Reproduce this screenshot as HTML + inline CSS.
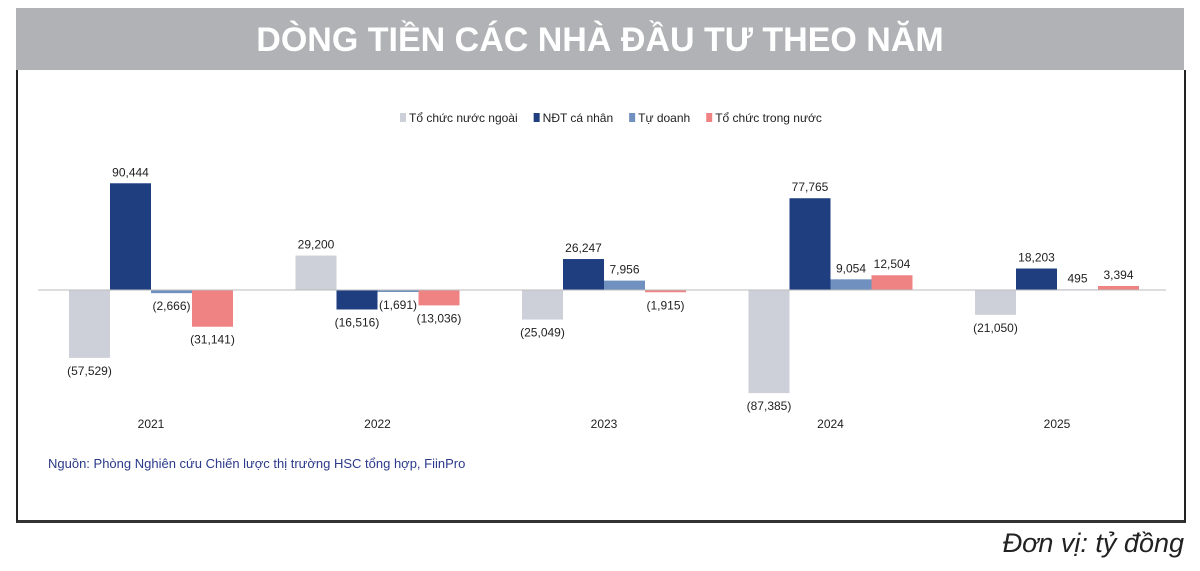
<!DOCTYPE html>
<html><head><meta charset="utf-8"><style>
body{margin:0;width:1200px;height:571px;background:#fff;font-family:"Liberation Sans",sans-serif;overflow:hidden;position:relative}
#hdr{position:absolute;left:16px;top:8px;width:1168px;height:62px;background:#b1b2b5;color:#fff;font-weight:bold;font-size:34px;text-align:center;line-height:64px;font-family:"Liberation Sans Narrow","Liberation Sans",sans-serif;letter-spacing:0px}
#box{position:absolute;left:16px;top:70px;width:1166px;height:450px;border-left:2px solid #222;border-right:2px solid #222;border-bottom:3px solid #333}
#unit{position:absolute;right:16px;top:528px;font-style:italic;font-size:27px;color:#222}
svg{position:absolute;left:0;top:0}
</style></head><body>
<div id="hdr">DÒNG TIỀN CÁC NHÀ ĐẦU TƯ THEO NĂM</div>
<div id="box"></div>
<div id="unit">Đơn vị: tỷ đồng</div>
<svg id="chart" width="1200" height="571"></svg>
<script>
const years=["2021","2022","2023","2024","2025"];
const seriesNames=["Tổ chức nước ngoài","NĐT cá nhân","Tự doanh","Tổ chức trong nước"];
const foreignInst=[-57529,29200,-25049,-87385,-21050];
const retail=[90444,-16516,26247,77765,18203];
const proprietary=[-2666,-1691,7956,9054,495];
const domesticInst=[-31141,-13036,-1915,12504,3394];
const colors=["#cdd0d9","#1f3e80","#7090c0","#ef8383"];
const series=[foreignInst,retail,proprietary,domesticInst];
const NS="http://www.w3.org/2000/svg";
const svg=document.getElementById('chart');
const zeroY=290, scale=1.18/1000;
const y=v=>zeroY-v*scale;
const gx=i=>151+i*226.5;
const bw=41;
function mk(t,a){const e=document.createElementNS(NS,t);for(const k in a)e.setAttribute(k,a[k]);svg.appendChild(e);return e;}
const fmt=v=>{const s=Math.abs(v).toLocaleString('en-US');return v<0?'('+s+')':s;};
// legend
let lx=400;
seriesNames.forEach((n,i)=>{
 const r=mk('rect',{x:lx,y:113,width:6,height:9,fill:colors[i]});
 
 
 const t=mk('text',{x:lx+9,y:122,'font-size':12,fill:'#222'});
 t.textContent=n;
 
 
 lx+=9+t.getComputedTextLength()+16;
});
series.forEach((vals,s)=>{
 vals.forEach((v,i)=>{
  const x=gx(i)-2*bw+s*bw;
  const top=Math.min(y(v),zeroY), h=Math.abs(y(v)-zeroY);
  const r=mk('rect',{x:x,y:top,width:bw,height:h,fill:colors[s]});
  
  
  const ly=v>=0?y(v)-7:y(v)+17;
  const t=mk('text',{x:x+bw/2,y:ly,'font-size':12,'text-anchor':'middle',fill:'#222'});
  t.textContent=fmt(v);
  
  
 });
});
const ax=mk('line',{x1:38,x2:1166,y1:zeroY,y2:zeroY,stroke:'#bbb','stroke-width':1});


years.forEach((yr,i)=>{
 const t=mk('text',{x:gx(i),y:428,'font-size':12,'text-anchor':'middle',fill:'#222'});
 t.textContent=yr;
 
 
});
const src=mk('text',{x:48,y:468,'font-size':13,fill:'#2b3a8a'});
src.textContent="Nguồn: Phòng Nghiên cứu Chiến lược thị trường HSC tổng hợp, FiinPro";


</script>
</body></html>
